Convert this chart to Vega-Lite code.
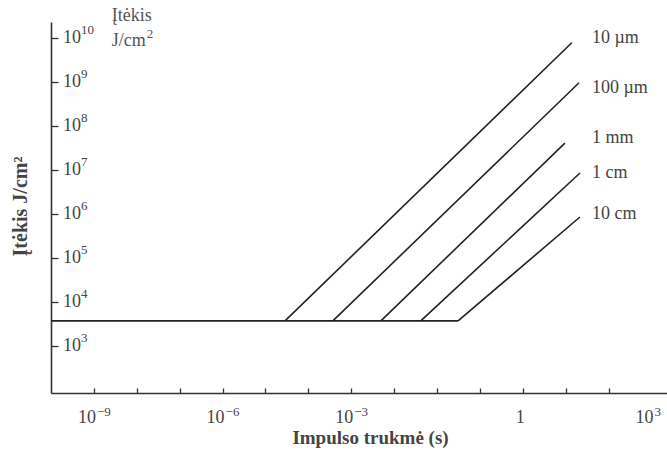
{
  "$schema": "https://vega.github.io/schema/vega-lite/v6.json",
  "width": 616,
  "height": 371,
  "autosize": "none",
  "padding": {"left": 51, "top": 22, "right": 0, "bottom": 59},
  "background": "white",
  "config": {
    "view": {"stroke": null},
    "font": "Liberation Serif",
    "axis": {"grid": false, "labelFont": "Liberation Serif", "titleFont": "Liberation Serif"}
  },
  "datasets": {
    "curves": [
      {"series": "base", "t": 1e-10, "f": 3700},
      {"series": "base", "t": 0.309, "f": 3700},
      {"series": "10 µm", "t": 2.85e-5, "f": 3700},
      {"series": "10 µm", "t": 138, "f": 7.76e9},
      {"series": "100 µm", "t": 3.72e-4, "f": 3700},
      {"series": "100 µm", "t": 204, "f": 9.55e8},
      {"series": "1 mm", "t": 4.9e-3, "f": 3700},
      {"series": "1 mm", "t": 95.5, "f": 4.07e7},
      {"series": "1 cm", "t": 0.0417, "f": 3700},
      {"series": "1 cm", "t": 214, "f": 8.5e6},
      {"series": "10 cm", "t": 0.309, "f": 3700},
      {"series": "10 cm", "t": 214, "f": 8.5e5}
    ],
    "curveLabels": [
      {"label": "10 µm", "t": 407, "f": 1e10},
      {"label": "100 µm", "t": 407, "f": 7.2e8},
      {"label": "1 mm", "t": 407, "f": 5.3e7},
      {"label": "1 cm", "t": 407, "f": 8.5e6},
      {"label": "10 cm", "t": 407, "f": 1e6}
    ],
    "unitNote": [
      {"label": "Įtėkis", "sup": "", "t": 2.6e-9, "f": 3.16e10},
      {"label": "J/cm", "sup": "2", "t": 2.6e-9, "f": 8.5e9}
    ],
    "yTickLabels": [
      {"t": 1e-10, "f": 1e3, "base": "10", "exp": "3"},
      {"t": 1e-10, "f": 1e4, "base": "10", "exp": "4"},
      {"t": 1e-10, "f": 1e5, "base": "10", "exp": "5"},
      {"t": 1e-10, "f": 1e6, "base": "10", "exp": "6"},
      {"t": 1e-10, "f": 1e7, "base": "10", "exp": "7"},
      {"t": 1e-10, "f": 1e8, "base": "10", "exp": "8"},
      {"t": 1e-10, "f": 1e9, "base": "10", "exp": "9"},
      {"t": 1e-10, "f": 1e10, "base": "10", "exp": "10"}
    ],
    "xTickLabels": [
      {"t": 1e-9, "f": 85, "base": "10", "exp": "−9"},
      {"t": 1e-6, "f": 85, "base": "10", "exp": "−6"},
      {"t": 1e-3, "f": 85, "base": "10", "exp": "−3"},
      {"t": 10, "f": 85, "base": "1", "exp": ""},
      {"t": 1e4, "f": 85, "base": "10", "exp": "3"}
    ]
  },
  "layer": [
    {
      "data": {"name": "curves"},
      "mark": {"type": "line", "color": "#222", "strokeWidth": 1.6},
      "encoding": {
        "x": {
          "field": "t",
          "type": "quantitative",
          "scale": {"type": "log", "domain": [1e-10, 22900], "nice": false},
          "axis": {
            "title": "Impulso trukmė (s)",
            "values": [1e-9, 1e-8, 1e-7, 1e-6, 1e-5, 1e-4, 1e-3, 1e-2, 1e-1, 1, 10, 100, 1000],
            "labels": false,
            "tickSize": -5,
            "domainColor": "#333",
            "domainWidth": 1.6,
            "tickColor": "#333",
            "tickWidth": 1.3,
            "titleFontSize": 19,
            "titleFontWeight": "bold",
            "titleColor": "#444",
            "titleBaseline": "middle",
            "titleAlign": "center",
            "titleX": 319,
            "titleY": 44
          }
        },
        "y": {
          "field": "f",
          "type": "quantitative",
          "scale": {"type": "log", "domain": [85, 2.3e10], "nice": false},
          "axis": {
            "title": "Įtėkis J/cm²",
            "values": [1e3, 1e4, 1e5, 1e6, 1e7, 1e8, 1e9, 1e10],
            "labels": false,
            "tickSize": -7,
            "domainColor": "#333",
            "domainWidth": 1.6,
            "tickColor": "#333",
            "tickWidth": 1.3,
            "titleFontSize": 20,
            "titleFontWeight": "bold",
            "titleColor": "#444",
            "titleBaseline": "middle",
            "titleAlign": "center",
            "titleX": -31,
            "titleY": 184
          }
        },
        "detail": {"field": "series"},
        "order": {"field": "t"}
      }
    },
    {
      "data": {"name": "yTickLabels"},
      "mark": {"type": "text", "align": "left", "baseline": "middle", "dx": 12, "fontSize": 18, "color": "#444", "font": "Liberation Serif"},
      "encoding": {
        "x": {"field": "t", "type": "quantitative"},
        "y": {"field": "f", "type": "quantitative"},
        "text": {"field": "base"}
      }
    },
    {
      "data": {"name": "yTickLabels"},
      "mark": {"type": "text", "align": "left", "baseline": "middle", "dx": 30, "dy": -8, "fontSize": 13, "color": "#444", "font": "Liberation Serif"},
      "encoding": {
        "x": {"field": "t", "type": "quantitative"},
        "y": {"field": "f", "type": "quantitative"},
        "text": {"field": "exp"}
      }
    },
    {
      "data": {"name": "xTickLabels"},
      "mark": {"type": "text", "align": "right", "baseline": "alphabetic", "dx": 2, "dy": 30, "fontSize": 18, "color": "#444", "font": "Liberation Serif"},
      "encoding": {
        "x": {"field": "t", "type": "quantitative"},
        "y": {"field": "f", "type": "quantitative"},
        "text": {"field": "base"}
      }
    },
    {
      "data": {"name": "xTickLabels"},
      "mark": {"type": "text", "align": "left", "baseline": "alphabetic", "dx": 3, "dy": 23, "fontSize": 13, "color": "#444", "font": "Liberation Serif"},
      "encoding": {
        "x": {"field": "t", "type": "quantitative"},
        "y": {"field": "f", "type": "quantitative"},
        "text": {"field": "exp"}
      }
    },
    {
      "data": {"name": "curveLabels"},
      "mark": {"type": "text", "align": "left", "baseline": "middle", "fontSize": 18, "color": "#444", "font": "Liberation Serif"},
      "encoding": {
        "x": {"field": "t", "type": "quantitative"},
        "y": {"field": "f", "type": "quantitative"},
        "text": {"field": "label"}
      }
    },
    {
      "data": {"name": "unitNote"},
      "mark": {"type": "text", "align": "left", "baseline": "middle", "fontSize": 18, "color": "#555", "font": "Liberation Serif"},
      "encoding": {
        "x": {"field": "t", "type": "quantitative"},
        "y": {"field": "f", "type": "quantitative"},
        "text": {"field": "label"}
      }
    },
    {
      "data": {"name": "unitNote"},
      "mark": {"type": "text", "align": "left", "baseline": "middle", "dx": 35, "dy": -7, "fontSize": 13, "color": "#555", "font": "Liberation Serif"},
      "encoding": {
        "x": {"field": "t", "type": "quantitative"},
        "y": {"field": "f", "type": "quantitative"},
        "text": {"field": "sup"}
      }
    }
  ]
}
